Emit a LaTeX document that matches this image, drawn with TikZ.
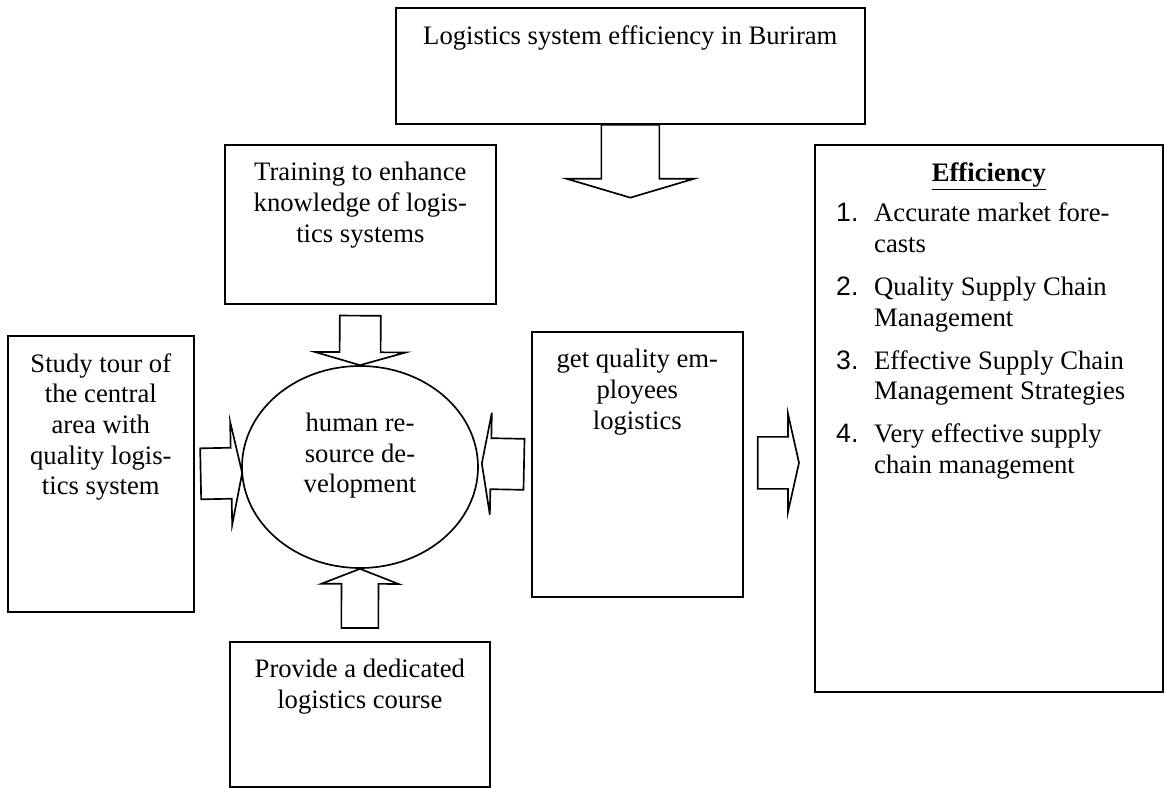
\documentclass[tikz,border=0pt]{standalone}
\usepackage{fontspec}
\setmainfont{Liberation Serif}
\newfontfamily\numfont{Liberation Sans}
\usetikzlibrary{calc,shapes.geometric}

\newdimen\pxu \pxu=0.6pt
\newcounter{effitem}
\newcommand{\efflabel}[1]{#1\hfil}

% block arrow: base, tip, half shaft, half head, head length
\newcommand{\fatarrow}[5]{%
  \coordinate (neck) at ($(#2)!#5!(#1)$);
  \draw[fatline] ($(#1)!#3!90:(#2)$) -- ($(neck)!#3!90:(#2)$) -- ($(neck)!#4!90:(#2)$) -- (#2)
    -- ($(neck)!#4!-90:(#2)$) -- ($(neck)!#3!-90:(#2)$) -- ($(#1)!#3!-90:(#2)$) -- cycle;}

\tikzset{
  box/.style 2 args={draw, line width=1pt, anchor=north west, inner xsep=8pt, inner ysep=0pt,
    execute at begin node={\begin{minipage}[t][#2\pxu][t]{\dimexpr#1\pxu-16pt\relax}\centering\vspace*{10.5pt}},
    execute at end node={\end{minipage}}},
  hrdev/.style={draw, ellipse, line width=1pt, inner sep=0pt, minimum width=141.6pt, minimum height=121.2pt},
  fatline/.style={draw, line width=1pt}
}

\begin{document}
\fontsize{16}{18.4}\selectfont
\begin{tikzpicture}[x=0.6pt,y=-0.6pt]
    \useasboundingbox (0,0) rectangle (1166,787);
    \node[box={469}{116}] (top) at (395,7) {Logistics system efficiency in Buriram};
    \node[box={271}{159}] (train) at (224,144) {Training to enhance\\knowledge of logis-\\tics systems};
    \node[box={186}{276}] (study) at (7,335) {Study tour of\\the central\\area with\\quality logis-\\tics system};
    \node[box={211}{265}] (getq) at (531,331) {get quality em-\\ployees\\logistics};
    \node[box={260}{145}] (prov) at (229,641) {Provide a dedicated\\logistics course};
    \node[hrdev] (hrd) at (360,467) {\begin{tabular}{@{}c@{}}human re-\\source de-\\velopment\\[13pt]\end{tabular}};
    \node[box={348}{547}] (eff) at (814,144) {\underline{\textbf{Efficiency}}\par\raggedright
        \begin{list}{\numfont\arabic{effitem}.}{\usecounter{effitem}\setlength{\leftmargin}{27.6pt}%
            \setlength{\labelwidth}{16pt}\setlength{\labelsep}{6.8pt}\setlength{\topsep}{6pt}%
            \setlength{\partopsep}{0pt}\setlength{\itemsep}{7.4pt}\setlength{\parsep}{0pt}%
            \let\makelabel\efflabel}
        \item Accurate market fore-\\casts
        \item Quality Supply Chain\\Management
        \item Effective Supply Chain\\Management Strategies
        \item Very effective supply\\chain management
        \end{list}};
    % arrows
    \coordinate (a1b) at (top.south);
    \coordinate (a1t) at ($(top.south)+(0,73)$);
    \coordinate (a2b) at ($(train.south)+(0,11)$);
    \coordinate (a2t) at (hrd.north);
    \coordinate (a3b) at ($(study.east)+(6,0)$);
    \coordinate (a3t) at ($(hrd.west)+(1,6)$);
    \coordinate (a4b) at ($(getq.west)+(-7,0)$);
    \coordinate (a4t) at ($(hrd.east)+(3,-3.5)$);
    \coordinate (a5b) at ($(prov.north)+(0,-13)$);
    \coordinate (a5t) at (hrd.south);
    \coordinate (a6b) at ($(getq.east)+(14,-1.5)$);
    \coordinate (a6t) at ($(a6b -| eff.west)+(-15,0)$);
    \fatarrow{a1b}{a1t}{17.4pt}{38.4pt}{11.4pt}
    \fatarrow{a2b}{a2t}{12.3pt}{27.3pt}{7.8pt}
    \fatarrow{a3b}{a3t}{15.3pt}{30.9pt}{6.6pt}
    \fatarrow{a4b}{a4t}{15.3pt}{30.6pt}{5.4pt}
    \fatarrow{a5b}{a5t}{11.1pt}{23.1pt}{9pt}
    \fatarrow{a6b}{a6t}{15.6pt}{29.4pt}{6.6pt}
\end{tikzpicture}
\end{document}
